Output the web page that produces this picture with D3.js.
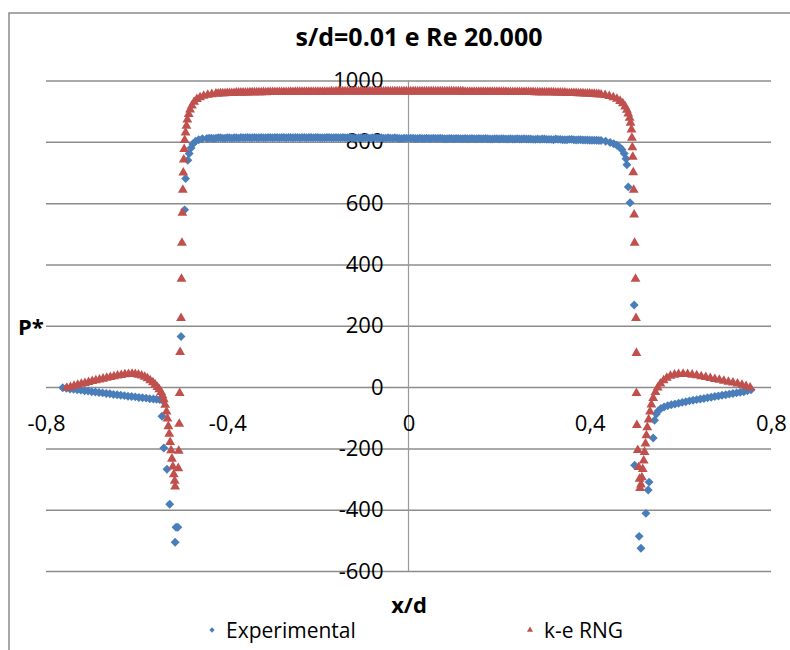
<!DOCTYPE html>
<html>
<head>
<meta charset="utf-8">
<script src="https://cdn.jsdelivr.net/npm/d3@7"></script>
<style>
  body { margin: 0; background: #fff; }
  svg { font-family: 'Open Sans', sans-serif; }
  .grid line { stroke: #8c8c8c; stroke-width: 1.5; }
  .axis text { fill: #000; font-size: 22px; }
</style>
</head>
<body>
<script>
// x/d ticks and P* ticks
const xTicks = [-0.8, -0.4, 0, 0.4, 0.8];
const yTicks = [-600, -400, -200, 0, 200, 400, 600, 800, 1000];

// Experimental [x/d, P*]
const experimental = [
  [-0.763,-2],[-0.755,-4],[-0.747,-6],[-0.739,-7],[-0.731,-9],[-0.723,-10],[-0.715,-12],[-0.707,-13],
  [-0.699,-15],[-0.691,-16],[-0.683,-18],[-0.675,-19],[-0.667,-21],[-0.659,-22],[-0.651,-24],[-0.643,-25],
  [-0.635,-27],[-0.627,-28],[-0.619,-30],[-0.611,-31],[-0.603,-32],[-0.595,-34],[-0.587,-35],[-0.579,-36],
  [-0.571,-38],[-0.563,-39],[-0.556,-40],[-0.549,-41],[-0.543,-43],
  [-0.544,-95],[-0.540,-199],[-0.533,-268],[-0.527,-382],[-0.515,-506],[-0.513,-457],[-0.509,-457],
  [-0.502,165],[-0.494,578],[-0.492,680],[-0.487,740],[-0.484,762],[-0.480,780],[-0.476,793],[-0.470,802],
  [-0.463,807],[-0.455,810],
  [-0.445,811],[-0.435,812],[-0.425,812],[-0.415,813],[-0.405,812],[-0.395,813],[-0.385,813],[-0.375,812],
  [-0.365,813],[-0.355,814],[-0.345,813],[-0.335,813],[-0.325,814],[-0.315,813],[-0.305,814],[-0.295,814],
  [-0.285,813],[-0.275,814],[-0.265,814],[-0.255,813],[-0.245,814],[-0.235,814],[-0.225,813],[-0.215,814],
  [-0.205,814],[-0.195,813],[-0.185,813],[-0.175,814],[-0.165,813],[-0.155,813],[-0.145,814],[-0.135,813],
  [-0.125,813],[-0.115,812],[-0.105,813],[-0.095,813],[-0.085,812],[-0.075,813],[-0.065,812],[-0.055,812],
  [-0.045,813],[-0.035,812],[-0.025,812],[-0.015,811],[-0.005,812],[0.005,812],[0.015,811],[0.025,812],
  [0.035,811],[0.045,811],[0.055,812],[0.065,811],[0.075,811],[0.085,810],[0.095,811],[0.105,811],
  [0.115,810],[0.125,811],[0.135,810],[0.145,810],[0.155,811],[0.165,810],[0.175,810],[0.185,809],
  [0.195,810],[0.205,810],[0.215,809],[0.225,810],[0.235,809],[0.245,809],[0.255,810],[0.265,809],
  [0.275,808],[0.285,809],[0.295,809],[0.305,808],[0.315,808],[0.325,809],[0.335,808],[0.345,807],
  [0.355,808],[0.365,807],[0.375,807],[0.385,806],[0.395,806],[0.405,805],[0.415,805],[0.425,804],
  [0.435,802],[0.445,798],[0.453,794],[0.460,789],[0.466,782],[0.471,775],[0.476,762],[0.480,745],
  [0.482,725],[0.485,653],[0.489,601],[0.498,268],
  [0.499,-255],[0.509,-487],[0.513,-526],[0.524,-412],[0.529,-336],[0.531,-310],[0.540,-166],
  [0.543,-108],[0.547,-88],[0.551,-78],[0.557,-70],[0.564,-65],[0.572,-61],[0.580,-58],[0.588,-55],
  [0.596,-53],[0.604,-50],[0.612,-48],[0.620,-45],[0.628,-43],[0.636,-41],[0.644,-39],[0.652,-37],
  [0.660,-35],[0.668,-33],[0.676,-31],[0.684,-29],[0.692,-27],[0.700,-25],[0.708,-23],[0.716,-21],
  [0.724,-19],[0.732,-17],[0.740,-15],[0.748,-12],[0.756,-9],
  // plateau readings in between
  [-0.44,812],[-0.43,811],[-0.42,813],[-0.41,812],[-0.40,813],[-0.39,812],[-0.38,813],[-0.37,814],
  [-0.36,813],[-0.35,813],[-0.34,814],[-0.33,813],[-0.32,813],[-0.31,814],[-0.30,813],[-0.29,814],
  [-0.28,814],[-0.27,813],[-0.26,814],[-0.25,814],[-0.24,813],[-0.23,814],[-0.22,814],[-0.21,813],
  [-0.20,814],[-0.19,813],[-0.18,814],[-0.17,813],[-0.16,814],[-0.15,813],[-0.14,813],[-0.13,814],
  [-0.12,812],[-0.11,813],[-0.10,812],[-0.09,813],[-0.08,813],[-0.07,812],[-0.06,813],[-0.05,812],
  [-0.04,812],[-0.03,813],[-0.02,811],[-0.01,812],[0.00,812],[0.01,812],[0.02,811],[0.03,811],
  [0.04,812],[0.05,811],[0.06,811],[0.07,812],[0.08,810],[0.09,811],[0.10,810],[0.11,811],
  [0.12,810],[0.13,810],[0.14,811],[0.15,810],[0.16,810],[0.17,811],[0.18,809],[0.19,810],
  [0.20,809],[0.21,810],[0.22,809],[0.23,809],[0.24,810],[0.25,809],[0.26,809],[0.27,809],
  [0.28,808],[0.29,808],[0.30,809],[0.31,808],[0.32,807],[0.33,808],[0.34,807],[0.35,807],
  [0.36,808],[0.37,806],[0.38,807],[0.39,806],[0.40,805],[0.41,805],[0.42,804]
];

// k-e RNG [x/d, P*]
const keRng = [
  [-0.754,-3],[-0.746,0],[-0.738,4],[-0.730,7],[-0.722,10],[-0.714,13],[-0.706,16],[-0.698,19],
  [-0.690,22],[-0.682,24],[-0.674,27],[-0.666,30],[-0.658,32],[-0.650,35],[-0.642,37],[-0.634,39],
  [-0.626,41],[-0.618,42],[-0.610,43],[-0.603,42],[-0.596,40],[-0.589,37],[-0.582,33],[-0.576,28],
  [-0.570,22],[-0.564,15],[-0.559,8],[-0.554,0],[-0.550,-8],[-0.546,-17],[-0.543,-27],[-0.540,-40],
  [-0.537,-58],[-0.534,-80],[-0.532,-103],[-0.530,-128],[-0.528,-153],[-0.526,-180],[-0.524,-207],
  [-0.522,-234],[-0.520,-260],[-0.518,-285],[-0.516,-306],[-0.515,-325],
  [-0.508,-265],[-0.507,-208],[-0.506,-120],[-0.505,-20],[-0.504,114],[-0.502,225],[-0.501,353],
  [-0.500,470],[-0.499,568],[-0.498,643],[-0.497,699],[-0.496,742],[-0.495,776],[-0.494,805],
  [-0.492,830],[-0.490,852],[-0.488,872],[-0.485,890],[-0.482,905],[-0.478,918],[-0.473,930],
  [-0.467,939],[-0.460,945],[-0.452,950],[-0.443,953],[-0.434,955],
  [-0.425,957],[-0.415,958],[-0.405,958],[-0.395,959],[-0.385,959],[-0.375,960],[-0.365,960],[-0.355,960],
  [-0.345,961],[-0.335,961],[-0.325,961],[-0.315,961],[-0.305,962],[-0.295,962],[-0.285,962],[-0.275,962],
  [-0.265,962],[-0.255,962],[-0.245,963],[-0.235,963],[-0.225,963],[-0.215,963],[-0.205,963],[-0.195,963],
  [-0.185,963],[-0.175,963],[-0.165,963],[-0.155,964],[-0.145,964],[-0.135,964],[-0.125,964],[-0.115,964],
  [-0.105,964],[-0.095,964],[-0.085,964],[-0.075,964],[-0.065,964],[-0.055,964],[-0.045,964],[-0.035,964],
  [-0.025,964],[-0.015,964],[-0.005,964],[0.005,964],[0.015,964],[0.025,964],[0.035,964],[0.045,964],
  [0.055,964],[0.065,964],[0.075,964],[0.085,964],[0.095,964],[0.105,964],[0.115,964],[0.125,963],
  [0.135,963],[0.145,963],[0.155,963],[0.165,963],[0.175,963],[0.185,963],[0.195,963],[0.205,963],
  [0.215,963],[0.225,962],[0.235,962],[0.245,962],[0.255,962],[0.265,962],[0.275,962],[0.285,961],
  [0.295,961],[0.305,961],[0.315,961],[0.325,960],[0.335,960],[0.345,960],[0.355,959],[0.365,959],
  [0.375,958],[0.385,958],[0.395,957],[0.405,956],[0.415,955],[0.425,954],
  [0.434,952],[0.443,949],[0.452,945],[0.460,940],[0.467,933],[0.473,925],[0.478,915],[0.482,904],
  [0.485,892],[0.488,878],[0.490,862],[0.492,840],[0.493,813],[0.494,782],[0.495,751],[0.496,700],
  [0.497,643],[0.498,562],[0.499,470],[0.501,353],[0.502,225],[0.503,111],[0.503,-20],[0.504,-124],
  [0.506,-206],[0.508,-261],
  [0.510,-300],[0.511,-330],[0.513,-318],[0.515,-295],[0.517,-268],[0.519,-240],[0.521,-212],[0.523,-185],
  [0.525,-158],[0.527,-132],[0.530,-106],[0.533,-80],[0.536,-57],[0.540,-36],[0.545,-17],[0.550,-2],
  [0.556,11],[0.563,22],[0.570,30],[0.578,36],[0.587,40],[0.596,42],[0.606,43],[0.616,42],
  [0.626,40],[0.636,38],[0.646,35],[0.656,32],[0.666,29],[0.676,26],[0.686,23],[0.696,20],
  [0.706,17],[0.716,14],[0.726,11],[0.736,7],[0.745,3],[0.754,-2],
  // plateau readings in between
  [-0.42,957],[-0.41,958],[-0.40,959],[-0.39,959],[-0.38,960],[-0.37,960],[-0.36,960],[-0.35,961],
  [-0.34,961],[-0.33,961],[-0.32,962],[-0.31,962],[-0.30,962],[-0.29,962],[-0.28,962],[-0.27,962],
  [-0.26,963],[-0.25,963],[-0.24,963],[-0.23,963],[-0.22,963],[-0.21,963],[-0.20,963],[-0.19,963],
  [-0.18,963],[-0.17,964],[-0.16,964],[-0.15,964],[-0.14,964],[-0.13,964],[-0.12,964],[-0.11,964],
  [-0.10,964],[-0.09,964],[-0.08,964],[-0.07,964],[-0.06,964],[-0.05,964],[-0.04,964],[-0.03,964],
  [-0.02,964],[-0.01,964],[0.00,964],[0.01,964],[0.02,964],[0.03,964],[0.04,964],[0.05,964],
  [0.06,964],[0.07,964],[0.08,964],[0.09,964],[0.10,964],[0.11,964],[0.12,964],[0.13,963],
  [0.14,963],[0.15,963],[0.16,963],[0.17,963],[0.18,963],[0.19,963],[0.20,963],[0.21,963],
  [0.22,962],[0.23,962],[0.24,962],[0.25,962],[0.26,962],[0.27,962],[0.28,961],[0.29,961],
  [0.30,961],[0.31,961],[0.32,961],[0.33,960],[0.34,960],[0.35,959],[0.36,959],[0.37,959],
  [0.38,958],[0.39,957],[0.40,957],[0.41,956],[0.42,955]
];

const blue = '#4a7ebb';
const red = '#c0504d';

const svgWidth = 790;
const svgHeight = 650;

const svg = d3.select('body')
  .append('svg')
  .attr('width', svgWidth)
  .attr('height', svgHeight);

const margin = { top: 80.5, right: 19, bottom: 79, left: 46 };
const width = svgWidth - margin.left - margin.right;
const height = svgHeight - margin.top - margin.bottom;

// chart frame (right and bottom edges fall outside the picture)
svg.append('path')
  .attr('d', 'M9,650V13H790')
  .attr('fill', 'none')
  .attr('stroke', '#8c8c8c')
  .attr('stroke-width', 1.5);

const g = svg.append('g')
  .attr('transform', `translate(${margin.left}, ${margin.top})`);

const x = d3.scaleLinear().domain([-0.8, 0.8]).range([0, width]);
const y = d3.scaleLinear().domain([-600, 1000]).range([height, 0]);

// horizontal gridlines
g.append('g')
  .attr('class', 'grid')
  .call(d3.axisLeft(y).tickValues(yTicks).tickSize(-width).tickFormat(''))
  .call(s => s.select('.domain').remove());

// vertical axis line at x = 0
g.append('line')
  .attr('x1', x(0)).attr('x2', x(0))
  .attr('y1', y(1000)).attr('y2', y(-600))
  .attr('stroke', '#9a9a9a')
  .attr('stroke-width', 1.2);

// Excel style: hyphen minus and decimal comma
const xFormat = d => d === 0 ? '0' : d.toFixed(1).replace('.', ',');
const yFormat = d => String(d);

g.append('g')
  .attr('class', 'axis')
  .attr('transform', `translate(0, ${y(0)})`)
  .call(d3.axisBottom(x).tickValues(xTicks).tickSize(0).tickPadding(28).tickFormat(xFormat))
  .call(s => s.select('.domain').remove());

g.append('g')
  .attr('class', 'axis')
  .attr('transform', `translate(${x(0)}, 0)`)
  .call(d3.axisLeft(y).tickValues(yTicks).tickSize(0).tickPadding(25).tickFormat(yFormat))
  .call(s => s.select('.domain').remove());

svg.selectAll('.axis').attr('font-family', null).attr('font-size', null);

// markers
const diamond = d3.symbol(d3.symbolSquare, 40);
const triangle = d3.symbol(d3.symbolTriangle, 42);

g.append('g')
  .selectAll('path')
  .data(experimental)
  .join('path')
  .attr('d', diamond)
  .attr('transform', d => `translate(${x(d[0])}, ${y(d[1])}) rotate(45)`)
  .attr('fill', blue);

g.append('g')
  .selectAll('path')
  .data(keRng)
  .join('path')
  .attr('d', triangle)
  .attr('transform', d => `translate(${x(d[0])}, ${y(d[1])})`)
  .attr('fill', red);

// title and axis titles
svg.append('text')
  .attr('x', 419).attr('y', 46)
  .attr('text-anchor', 'middle')
  .attr('font-weight', 'bold')
  .attr('font-size', 25)
  .text('s/d=0.01 e Re 20.000');

svg.append('text')
  .attr('x', 18).attr('y', 335)
  .attr('font-weight', 'bold')
  .attr('font-size', 22)
  .text('P*');

svg.append('text')
  .attr('x', 409).attr('y', 613)
  .attr('text-anchor', 'middle')
  .attr('font-weight', 'bold')
  .attr('font-size', 22)
  .text('x/d');

// legend
const legend = svg.append('g').attr('font-size', 21);
legend.append('path')
  .attr('d', d3.symbol(d3.symbolSquare, 14))
  .attr('transform', 'translate(212, 630) rotate(45)')
  .attr('fill', blue);
legend.append('text').attr('x', 226).attr('y', 638).text('Experimental');
legend.append('path')
  .attr('d', d3.symbol(d3.symbolTriangle, 16))
  .attr('transform', 'translate(530, 630)')
  .attr('fill', red);
legend.append('text').attr('x', 544).attr('y', 638).text('k-e RNG');
</script>
</body>
</html>
